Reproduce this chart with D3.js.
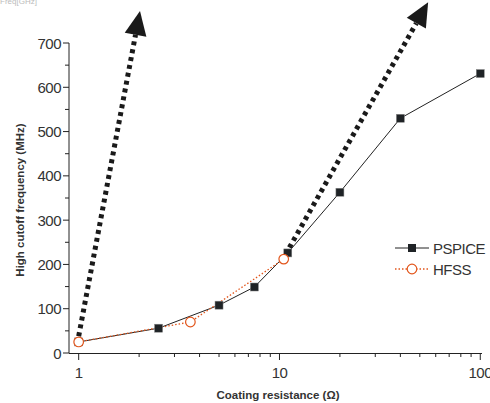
<!DOCTYPE html>
<html>
<head>
<meta charset="utf-8">
<script src="https://d3js.org/d3.v7.min.js"></script>
<style>
  body { margin: 0; background: #fff; }
  svg { font-family: "Liberation Sans", Arial, sans-serif; }
</style>
</head>
<body>
<svg id="chart" width="490" height="403"></svg>
<script>
// data
var pspiceR = [1, 2.5, 5, 7.5, 11, 20, 40, 100];
var pspiceF = [25, 56, 108, 149, 226, 363, 530, 631];
var hfssR = [1, 3.6, 10.5];
var hfssF = [25, 70, 212];
var yTicks = [0, 100, 200, 300, 400, 500, 600, 700];
var xTicks = [1, 10, 100];
// the two annotation arrows (start, tip) in data units
var arrowFrom = [[1, 38], [11.2, 238]];
var arrowTo = [[2.02, 772], [55, 792]];

var svg = d3.select("#chart");
var x = d3.scaleLog().domain([0.895, 102]).range([69, 482]);
var y = d3.scaleLinear().domain([0, 700]).range([353, 43]);

// faint clipped header
svg.append("text").attr("x", 0).attr("y", 4).attr("font-size", 8).attr("fill", "#bbb").text("Freq[GHz]");

// y axis
var yMinor = d3.range(50, 700, 100);
svg.append("line").attr("x1", 69).attr("x2", 69).attr("y1", y(700)).attr("y2", y(0)).attr("stroke", "#222");
svg.selectAll(".ymaj").data(yTicks).enter().append("line")
  .attr("x1", 63).attr("x2", 69).attr("y1", function(d) { return y(d); }).attr("y2", function(d) { return y(d); })
  .attr("stroke", "#222");
svg.selectAll(".ymin").data(yMinor).enter().append("line")
  .attr("x1", 65).attr("x2", 69).attr("y1", function(d) { return y(d); }).attr("y2", function(d) { return y(d); })
  .attr("stroke", "#222");
svg.selectAll(".ylab").data(yTicks).enter().append("text")
  .attr("x", 61).attr("y", function(d) { return y(d) + 5.5; })
  .attr("text-anchor", "end").attr("font-size", 15).attr("fill", "#333")
  .attr("letter-spacing", "-0.5")
  .text(function(d) { return d; });

// x axis
var xMinor = [];
[1, 10].forEach(function(b) { for (var k = 2; k <= 9; k++) xMinor.push(b * k); });
svg.append("line").attr("x1", 69).attr("x2", 482).attr("y1", 353.5).attr("y2", 353.5).attr("stroke", "#222");
svg.selectAll(".xmaj").data(xTicks).enter().append("line")
  .attr("x1", function(d) { return x(d); }).attr("x2", function(d) { return x(d); })
  .attr("y1", 353).attr("y2", 360).attr("stroke", "#222");
svg.selectAll(".xmin").data(xMinor).enter().append("line")
  .attr("x1", function(d) { return x(d); }).attr("x2", function(d) { return x(d); })
  .attr("y1", 353).attr("y2", 357).attr("stroke", "#222");
svg.selectAll(".xlab").data(xTicks).enter().append("text")
  .attr("x", function(d) { return x(d); }).attr("y", 378)
  .attr("text-anchor", "middle").attr("font-size", 15).attr("fill", "#333")
  .attr("letter-spacing", "-0.5")
  .text(function(d) { return d; });

// axis titles
svg.append("text").attr("x", 278).attr("y", 399).attr("text-anchor", "middle")
  .attr("font-size", 11.5).attr("font-weight", "bold").attr("fill", "#333")
  .text("Coating resistance (\u03A9)");
svg.append("text").attr("transform", "translate(24,200) rotate(-90)").attr("text-anchor", "middle")
  .attr("font-size", 11.5).attr("font-weight", "bold").attr("fill", "#333")
  .text("High cutoff frequency (MHz)");

// arrows
arrowFrom.forEach(function(a, i) {
  var b = arrowTo[i];
  var x0 = x(a[0]), y0 = y(a[1]), x1 = x(b[0]), y1 = y(b[1]);
  var ang = Math.atan2(y1 - y0, x1 - x0);
  var len = 24, half = 11;
  var bx = x1 - len * Math.cos(ang), by = y1 - len * Math.sin(ang);
  svg.append("line").attr("x1", x0).attr("y1", y0).attr("x2", bx).attr("y2", by)
    .attr("stroke", "#1a1a1a").attr("stroke-width", 5).attr("stroke-dasharray", "4,4");
  var px = -Math.sin(ang), py = Math.cos(ang);
  svg.append("path")
    .attr("d", "M" + x1 + "," + y1 + "L" + (bx + half * px) + "," + (by + half * py) +
      "L" + (bx - half * px) + "," + (by - half * py) + "Z")
    .attr("fill", "#1a1a1a");
});

// series lines
var line = d3.line().x(function(d) { return x(d[0]); }).y(function(d) { return y(d[1]); });
var pspice = pspiceR.map(function(r, i) { return [r, pspiceF[i]]; });
var hfss = hfssR.map(function(r, i) { return [r, hfssF[i]]; });
svg.append("path").attr("d", line(pspice)).attr("fill", "none").attr("stroke", "#222").attr("stroke-width", 1);
svg.append("path").attr("d", line(hfss)).attr("fill", "none").attr("stroke", "#e2561c")
  .attr("stroke-width", 1.3).attr("stroke-dasharray", "1.5,2");

svg.selectAll(".sq").data(pspice).enter().append("rect")
  .attr("x", function(d) { return x(d[0]) - 4; }).attr("y", function(d) { return y(d[1]) - 4; })
  .attr("width", 8).attr("height", 8).attr("fill", "#1f2326").attr("stroke", "#888").attr("stroke-width", 0.5);
svg.selectAll(".ci").data(hfss).enter().append("circle")
  .attr("cx", function(d) { return x(d[0]); }).attr("cy", function(d) { return y(d[1]); })
  .attr("r", 4.8).attr("fill", "#fff").attr("stroke", "#e2561c").attr("stroke-width", 1.2);

// legend
var lg = svg.append("g");
lg.append("line").attr("x1", 395).attr("x2", 429).attr("y1", 248).attr("y2", 248).attr("stroke", "#222");
lg.append("rect").attr("x", 408).attr("y", 244).attr("width", 8).attr("height", 8).attr("fill", "#1f2326");
lg.append("text").attr("x", 433).attr("y", 254).attr("font-size", 15).attr("fill", "#333").attr("letter-spacing", "-0.5").text("PSPICE");
lg.append("line").attr("x1", 395).attr("x2", 429).attr("y1", 269).attr("y2", 269).attr("stroke", "#e2561c")
  .attr("stroke-width", 1.3).attr("stroke-dasharray", "1.5,2");
lg.append("circle").attr("cx", 412).attr("cy", 269).attr("r", 4.8).attr("fill", "#fff").attr("stroke", "#e2561c").attr("stroke-width", 1.2);
lg.append("text").attr("x", 433).attr("y", 275).attr("font-size", 15).attr("fill", "#333").attr("letter-spacing", "-0.5").text("HFSS");
</script>
</body>
</html>
